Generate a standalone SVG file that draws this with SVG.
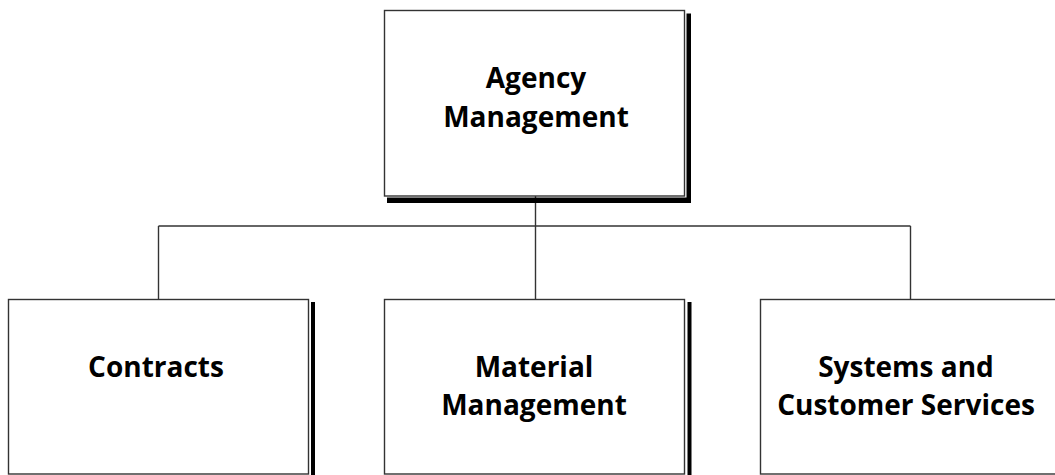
<svg xmlns="http://www.w3.org/2000/svg" width="1055" height="475" viewBox="0 0 1055 475">
<style>
.box{fill:#fff;stroke:#333;stroke-width:1.4}
.sh{fill:#000}
.lbl{font-family:"Open Sans","Noto Sans",sans-serif;font-weight:bold;font-size:28px;fill:#000;text-anchor:middle}
.conn{stroke:#333;stroke-width:1.4;fill:none}
</style>
<rect width="1055" height="475" fill="#fff"/>
<g id="connectors">
<line class="conn" x1="535.5" y1="196" x2="535.5" y2="299"/>
<line class="conn" x1="158.5" y1="226" x2="910.5" y2="226"/>
<line class="conn" x1="158.5" y1="226" x2="158.5" y2="299"/>
<line class="conn" x1="910.5" y1="226" x2="910.5" y2="299"/>
</g>
<g id="agency-management">
<rect class="sh" x="686.5" y="13.5" width="4.5" height="189.5"/>
<rect class="sh" x="387" y="197.5" width="304" height="5.5"/>
<rect class="box" x="384.5" y="10.5" width="300" height="185.5"/>
<text class="lbl" x="536" y="88">Agency</text>
<text class="lbl" x="536" y="126.5">Management</text>
</g>
<g id="contracts">
<rect class="sh" x="311" y="302" width="4" height="180"/>
<rect class="box" x="8.5" y="299.5" width="300" height="174.5"/>
<text class="lbl" x="156" y="376.5">Contracts</text>
</g>
<g id="material-management">
<rect class="sh" x="687.5" y="302" width="4" height="180"/>
<rect class="box" x="384.5" y="299.5" width="300" height="174.5"/>
<text class="lbl" x="534" y="376.5">Material</text>
<text class="lbl" x="534" y="415">Management</text>
</g>
<g id="systems-customer-services">
<rect class="box" x="760.5" y="299.5" width="300" height="174.5"/>
<text class="lbl" x="906" y="376.5">Systems and</text>
<text class="lbl" x="906" y="415">Customer Services</text>
</g>
</svg>
